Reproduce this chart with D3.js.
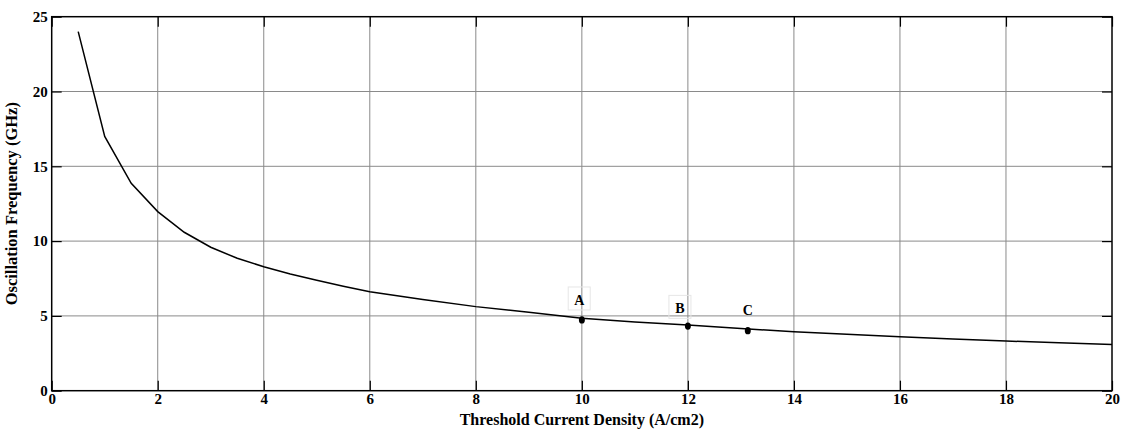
<!DOCTYPE html>
<meta charset="utf-8">
<script src="https://d3js.org/d3.v7.min.js"></script>
<style>
  body { margin: 0; background: #fff; }
</style>
<div id="my_dataviz"></div>

<script>
// Threshold current density (A/cm2) and oscillation frequency (GHz)
var density = [0.5, 1, 1.5, 2, 2.5, 3, 3.5, 4, 4.5, 5, 5.5, 6, 7, 8, 9, 10, 11, 12, 13, 14, 15, 16, 17, 18, 19, 20];
var frequency = [24.0, 17.0, 13.86, 11.97, 10.59, 9.59, 8.85, 8.29, 7.8, 7.38, 6.98, 6.62, 6.1, 5.62, 5.25, 4.84, 4.6, 4.39, 4.15, 3.94, 3.78, 3.61, 3.45, 3.32, 3.2, 3.08];

// marked operating points
var markNames = ["A", "B", "C"];
var markX = [10, 12, 13.13];
var markY = [4.73, 4.32, 4.01];
// where the letters sit (data units)
var labelX = [9.95, 11.85, 13.13];
var labelY = [5.73, 5.17, 5.06];

var xTicks = [0, 2, 4, 6, 8, 10, 12, 14, 16, 18, 20];
var yTicks = [0, 5, 10, 15, 20, 25];

var font = '"Liberation Serif", "Times New Roman", serif';

var margin = {top: 16.7, right: 10, bottom: 38.3, left: 51.7},
    width = 1122 - margin.left - margin.right,
    height = 429 - margin.top - margin.bottom;

var svg = d3.select("#my_dataviz")
  .append("svg")
    .attr("width", 1122)
    .attr("height", 429)
  .append("g")
    .attr("transform", "translate(" + margin.left + "," + margin.top + ")");

var x = d3.scaleLinear().domain([0, 20]).range([0, width]);
var y = d3.scaleLinear().domain([0, 25]).range([height, 0]);

// grid
svg.append("g")
  .selectAll("line.vg")
  .data(xTicks.slice(1, -1))
  .enter().append("line")
    .attr("x1", d => x(d)).attr("x2", d => x(d))
    .attr("y1", 0).attr("y2", height)
    .attr("stroke", "#8a8a8a").attr("stroke-width", 1);
svg.append("g")
  .selectAll("line.hg")
  .data(yTicks.slice(1, -1))
  .enter().append("line")
    .attr("x1", 0).attr("x2", width)
    .attr("y1", d => y(d)).attr("y2", d => y(d))
    .attr("stroke", "#8a8a8a").attr("stroke-width", 1);

// axes with inward ticks on all four sides
var tickLen = 10;
svg.append("g")
  .attr("transform", "translate(0," + height + ")")
  .call(d3.axisBottom(x).tickValues(xTicks).tickSizeInner(-tickLen).tickSizeOuter(0).tickPadding(3));
svg.append("g")
  .call(d3.axisLeft(y).tickValues(yTicks).tickSizeInner(-tickLen).tickSizeOuter(0).tickPadding(4));
svg.append("g")
  .call(d3.axisTop(x).tickValues(xTicks).tickSizeInner(-tickLen).tickSizeOuter(0).tickFormat(""));
svg.append("g")
  .attr("transform", "translate(" + width + ",0)")
  .call(d3.axisRight(y).tickValues(yTicks).tickSizeInner(-tickLen).tickSizeOuter(0).tickFormat(""));

svg.selectAll(".domain").remove();
svg.selectAll(".tick line").attr("stroke", "#000").attr("stroke-width", 1.2);
svg.selectAll(".tick text")
  .attr("fill", "#000")
  .style("font-family", font)
  .style("font-weight", "bold")
  .style("font-size", "15px");

// frame
svg.append("rect")
  .attr("x", 0).attr("y", 0)
  .attr("width", width).attr("height", height)
  .attr("fill", "none").attr("stroke", "#000").attr("stroke-width", 1.5);

// curve
var line = d3.line()
  .x((d, i) => x(density[i]))
  .y((d, i) => y(frequency[i]));
svg.append("path")
  .datum(frequency)
  .attr("d", line)
  .attr("fill", "none")
  .attr("stroke", "#000")
  .attr("stroke-width", 1.5);

// marked points
svg.selectAll("mymarks")
  .data(markNames)
  .enter().append("ellipse")
    .attr("cx", (d, i) => x(markX[i]))
    .attr("cy", (d, i) => y(markY[i]))
    .attr("rx", 3).attr("ry", 3.6)
    .attr("fill", "#000");

// letter labels with faint boxes
var labels = svg.selectAll("mylabels")
  .data(markNames)
  .enter().append("g")
    .attr("transform", (d, i) => "translate(" + x(labelX[i]) + "," + y(labelY[i]) + ")");
labels.filter((d, i) => i < 2).append("rect")
  .attr("x", -11).attr("y", -18).attr("width", 22).attr("height", 23)
  .attr("fill", "none").attr("stroke", "#e6e6e6").attr("stroke-width", 1);
labels.append("text")
  .attr("text-anchor", "middle")
  .style("font-family", font)
  .style("font-weight", "bold")
  .style("font-size", "14px")
  .text(d => d);

// axis titles
svg.append("text")
  .attr("x", width / 2)
  .attr("y", height + 34)
  .attr("text-anchor", "middle")
  .style("font-family", font)
  .style("font-weight", "bold")
  .style("font-size", "16px")
  .text("Threshold Current Density (A/cm2)");
svg.append("text")
  .attr("transform", "translate(" + (-35) + "," + (height / 2) + ")rotate(-90)")
  .attr("text-anchor", "middle")
  .style("font-family", font)
  .style("font-weight", "bold")
  .style("font-size", "16.5px")
  .text("Oscillation Frequency (GHz)");
</script>
